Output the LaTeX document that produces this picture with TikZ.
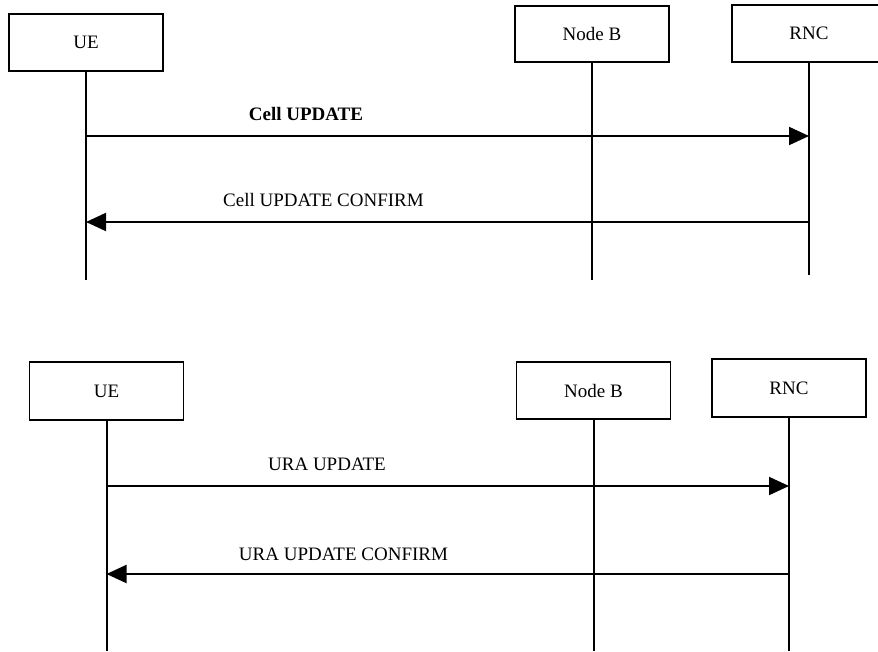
\documentclass[tikz,border=0pt]{standalone}
\usepackage{fontspec}
\setmainfont{Liberation Serif}
\usetikzlibrary{positioning,arrows.meta}

\begin{document}
\begin{tikzpicture}[x=1pt,y=-1pt,
  entity/.style={draw,line width=1.6pt,minimum width=154pt,minimum height=57pt,inner sep=0pt,font=\fontsize{19}{21}\selectfont},
  life/.style={line width=2pt},
  msg/.style={line width=2pt,-{Triangle[length=20pt,width=18pt]}},
  lbl/.style={font=\fontsize{19}{21}\selectfont}]
\clip (0,0) rectangle (878,651);
% upper chart: cell update
\node[entity] (ue1) at (86,42.5) {UE};
\node[entity,minimum height=56pt] (nodeb1) at (592,34) {Node B};
\node[entity] (rnc1) at (809,33.5) {RNC};
\coordinate (ue1end) at (ue1.south |- 0,280); \coordinate (nodeb1end) at (nodeb1.south |- 0,280); \coordinate (rnc1end) at (rnc1.south |- 0,275);
\draw[life] (ue1.south)--(ue1end); \draw[life] (nodeb1.south)--(nodeb1end); \draw[life,line width=1.5pt] (rnc1.south)--(rnc1end);
\draw[msg] (ue1 |- 0,136)--(rnc1 |- 0,136);
\draw[msg] (rnc1 |- 0,222)--(ue1 |- 0,222);
\node[lbl,font=\fontsize{19}{21}\selectfont\bfseries] (cellup) at (306,114) {Cell UPDATE};
\node[lbl] (cellconf) at (323.5,200) {Cell UPDATE CONFIRM};
% lower chart: URA update
\node[entity,minimum height=58pt] (ue2) at (106.5,391) {UE};
\node[entity] (nodeb2) at (593.5,390.5) {Node B};
\node[entity,minimum height=58pt] (rnc2) at (789,388) {RNC};
\coordinate (ue2end) at (ue2.south |- 0,651); \coordinate (nodeb2end) at (nodeb2.south |- 0,651); \coordinate (rnc2end) at (rnc2.south |- 0,651);
\draw[life] (ue2.south)--(ue2end); \draw[life] (nodeb2.south)--(nodeb2end); \draw[life] (rnc2.south)--(rnc2end);
\draw[msg] (ue2 |- 0,486)--(rnc2 |- 0,486);
\draw[msg] (rnc2 |- 0,574)--(ue2 |- 0,574);
\node[lbl] (uraup) at (327,464) {URA UPDATE};
\node[lbl] (uraconf) at (343.5,554) {URA UPDATE CONFIRM};
\end{tikzpicture}
\end{document}
